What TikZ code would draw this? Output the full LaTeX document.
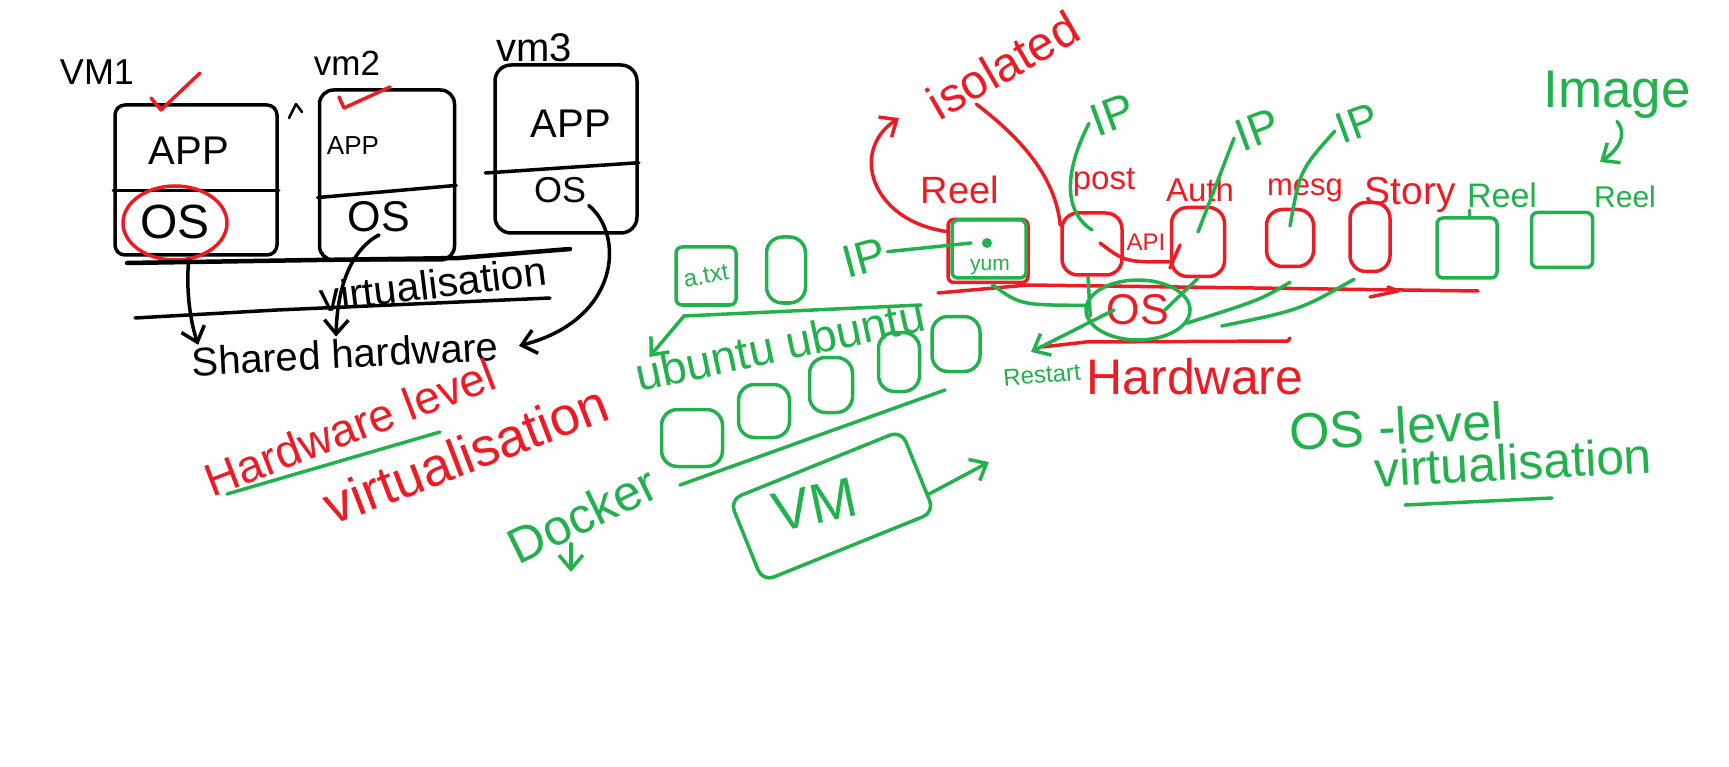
\documentclass[tikz,border=0pt]{standalone}
\usepackage{fontspec}
\setmainfont{Liberation Sans}
\usepackage{xcolor}
\usepackage{tikz}
\usetikzlibrary{positioning, calc, shapes.geometric, arrows.meta}

\definecolor{rojo}{RGB}{237,28,36}
\definecolor{verde}{RGB}{34,177,76}

\tikzset{
  mano/.style={inner sep=1pt, font=\fontsize{#1}{#1}\selectfont},
  caja/.style={draw, inner sep=0pt, rounded corners=6pt},
  arco/.style={draw, inner sep=0pt, rounded corners=16pt},
}

\begin{document}
\begin{tikzpicture}[x=1pt, y=-1pt, line width=3.5pt, line cap=round, line join=round,
  >={Straight Barb[length=14pt, width=24pt]}]
\fill[white] (0,0) rectangle (1729,767);
\useasboundingbox (0,0) rectangle (1729,767);

% Maquinas virtuales
\node[mano=36] (vm1t) at (97,72) {VM1};
\node[mano=35] (vm2t) at (347,63) {vm2};
\node[mano=40] (vm3t) at (534,48) {vm3};

\node[caja, rounded corners=10pt, minimum width=162pt, minimum height=150pt] (vm1) at (196,180) {};
\node[caja, rounded corners=14pt, minimum width=135pt, minimum height=170pt] (vm2) at (387,175) {};
\node[caja, rounded corners=16pt, minimum width=142pt, minimum height=168pt] (vm3) at (566,149) {};

\node[mano=40] (app1) at (189,151) {APP};
\node[mano=48] (os1) at (175,222) {OS};
\node[mano=26] (app2) at (353,146) {APP};
\node[mano=43] (os2) at (379,217) {OS};
\node[mano=40] (app3) at (571,124) {APP};
\node[mano=36] (os3) at (560,190) {OS};

\draw ($(vm1.north west)!.57!(vm1.south west)$) -- ($(vm1.north east)!.57!(vm1.south east)$);
\draw ($(vm2.north west)!.63!(vm2.south west)$) -- ($(vm2.north east)!.56!(vm2.south east)$);
\draw ([xshift=-8pt]$(vm3.north west)!.64!(vm3.south west)$) -- ($(vm3.north east)!.58!(vm3.south east)$);

\draw[rojo] (151,98) -- (161,110) -- (200,73);
\draw[rojo] (339,97) -- (344,108) -- (390,87);
\node[draw=rojo, ellipse, minimum width=104pt, minimum height=74pt] (c1) at (175,223) {};
\draw[line width=2.5pt] (289,118) -- (296,104) -- (302,112);

% Virtualizacion y hardware
\draw[line width=4.5pt] (127,263) -- (317,260) -- (459,258) -- (570,249);
\node[mano=41, rotate=7] (virt) at (433,284) {virtualisation};
\draw (135,318) -- (277,310) -- (550,298);
\node[mano=40, rotate=3] (sh) at (345,354) {Shared hardware};

\draw[->] (c1.290) .. controls (186,290) and (190,320) .. ([xshift=10pt]sh.north west);
\draw[->] (os2.south) .. controls (350,250) and (337,290) .. ([xshift=-8pt]sh.north);
\draw[->] (os3.south east) .. controls (625,235) and (620,320) .. ([xshift=18pt]sh.east);

% Nivel hardware
\node[mano=46, rotate=21, text=rojo] (hwl) at (350,427) {Hardware level};
\node[mano=54, rotate=21, text=rojo] (virtr) at (466,454) {virtualisation};
\draw[verde] (227,494) -- (440,432);

% Docker
\node[mano=50, rotate=26, text=verde] (doc) at (582,515) {Docker};
\draw[verde, ->] (doc.-137) -- ++(0,28);

\node[arco, draw=verde, minimum width=61pt, minimum height=57pt] (d1) at (692,438) {};
\node[arco, draw=verde, minimum width=51pt, minimum height=53pt] (d2) at (764,411) {};
\node[arco, draw=verde, minimum width=43pt, minimum height=55pt] (d3) at (831,385) {};
\node[arco, draw=verde, minimum width=41pt, minimum height=59pt] (d4) at (899,362) {};
\node[arco, draw=verde, minimum width=48pt, minimum height=55pt] (d5) at (956,344) {};
\draw[verde] (680,485) -- (945,390);

\node[draw=verde, rotate=22, minimum width=185pt, minimum height=88pt, rounded corners=12pt] (vmd) at (832,506) {};
\node[mano=56, rotate=12, text=verde] (vmdt) at (815,505) {VM};
\draw[verde, ->] (vmd.-15) -- ++(60,-32);

% Contenedores
\node[caja, draw=verde, minimum width=60pt, minimum height=58pt] (txt) at (706,276) {};
\node[mano=24, rotate=10, text=verde] (txtl) at (txt) {a.txt};
\node[arco, draw=verde, minimum width=39pt, minimum height=66pt] (a1) at (786,270) {};
\coordinate (l1) at (684,316);
\draw[verde] (l1) -- (921,305);
\node[mano=46, rotate=12, text=verde] (ubu) at (780,345) {ubuntu ubuntu};
\draw[verde, ->] (l1) -- ([xshift=20pt]ubu.north west);

\node[mano=46, rotate=15, text=verde] (ip0) at (864,258) {IP};
\node[caja, draw=rojo, minimum width=80pt, minimum height=63pt] (reel) at (988,251) {};
\node[caja, draw=verde, minimum width=74pt, minimum height=58pt] (reelv) at (989,249) {};
\node[circle, fill=verde, inner sep=0pt, minimum size=10pt] (punto) at (987,243) {};
\node[mano=21, text=verde] (yum) at (990,267) {yum};
\draw[verde] (ip0.east) -- ([xshift=-16pt]punto.center);

\node[mano=38, text=rojo] (reelt) at (960,190) {Reel};
\node[mano=48, rotate=30, text=rojo] (iso) at (1003,65) {isolated};
\coordinate (flecha) at (899,118);
\draw[rojo, ->] (reel.155) .. controls (870,220) and (850,150) .. (flecha);

\node[arco, draw=rojo, minimum width=60pt, minimum height=62pt] (post) at (1092,244) {};
\node[mano=33, text=rojo] (postt) at (1104,182) {post};
\draw[rojo] ($(iso.south west)!.25!(iso.south east)$) .. controls (1010,130) and (1055,170) .. ([yshift=-14pt]post.north west);
\node[mano=24, text=rojo] (api) at (1146,242) {API};
\draw[rojo] (1100,243) .. controls (1125,262) .. (1172,262);
\draw[rojo] (1180,245) -- (1170,268);

\node[arco, draw=rojo, minimum width=53pt, minimum height=69pt] (auth) at (1198,242) {};
\node[mano=33, text=rojo] (autht) at (1200,190) {Auth};
\node[arco, draw=rojo, minimum width=47pt, minimum height=57pt] (mesg) at (1290,238) {};
\node[mano=31, text=rojo] (mesgt) at (1305,190) {mesg};
\node[arco, draw=rojo, minimum width=40pt, minimum height=69pt] (story) at (1370,237) {};
\node[mano=39, text=rojo] (storyt) at (1410,195) {Story};

\node[caja, draw=verde, minimum width=60pt, minimum height=60pt] (g1) at (1467,248) {};
\node[mano=34, text=verde] (g1t) at (1502,195) {Reel};
\draw[verde] ([xshift=5pt]g1t.south west) -- ([xshift=5pt]g1t.south west |- g1.north);
\node[caja, draw=verde, minimum width=61pt, minimum height=55pt] (g2) at (1562,240) {};
\node[mano=30, text=verde] (g2t) at (1625,197) {Reel};
\node[mano=53, text=verde] (img) at (1617,95) {Image};
\coordinate (flecha2) at (1600,162);
\draw[verde, ->] (img.south) .. controls (1628,135) and (1618,150) .. (flecha2);

% IP
\node[mano=46, rotate=20, text=verde] (ip1) at (1112,115) {IP};
\node[mano=46, rotate=20, text=verde] (ip2) at (1257,130) {IP};
\node[mano=44, rotate=20, text=verde] (ip3) at (1357,123) {IP};
\draw[verde] (ip1.west) .. controls (1060,180) and (1068,215) .. ([yshift=14pt]post.center);
\draw[verde] (ip2.west) -- ([yshift=10pt]auth.center);
\draw[verde] (ip3.west) .. controls (1300,170) .. ([yshift=12pt]mesg.center);

% Hardware y OS
\draw[rojo] (938,293) -- (1028,285) -- (1478,291);
\draw[rojo] (1370,297) -- (1398,291) -- (1388,287);
\draw[rojo] (1042,347) -- (1086,342) -- (1288,341) -- (1290,338);
\node[draw=verde, ellipse, minimum width=104pt, minimum height=60pt, mano=43, text=rojo] (os) at (1138,310) {OS};

\draw[verde] ([xshift=4pt]reel.south) .. controls (1020,305) .. (os.175);
\draw[verde] ([xshift=-4pt]post.south) -- ([xshift=6pt,yshift=-6pt]os.west);
\draw[verde] (auth.south) -- ($(os.center)!.5!(os.east)$);
\draw[verde] ([yshift=-14pt]mesg.south) .. controls (1260,300) .. (os.-15);
\draw[verde] ([xshift=-16pt,yshift=-6pt]story.south) .. controls (1300,310) .. ([xshift=30pt,yshift=-16pt]os.east);

\node[mano=24, rotate=5, text=verde] (rst) at (1042,375) {Restart};
\draw[verde, ->] ([xshift=-24pt]os.center) -- ([xshift=-10pt,yshift=12pt]rst.north);
\node[mano=50, text=rojo] (hw) at (1195,377) {Hardware};

% Nivel OS
\node[mano=52, rotate=3, text=verde] (osl) at (1396,426) {OS -level};
\node[mano=50, rotate=3, text=verde] (virtv) at (1513,462) {virtualisation};
\draw[verde] (1405,505) -- (1552,498);
\end{tikzpicture}
\end{document}
